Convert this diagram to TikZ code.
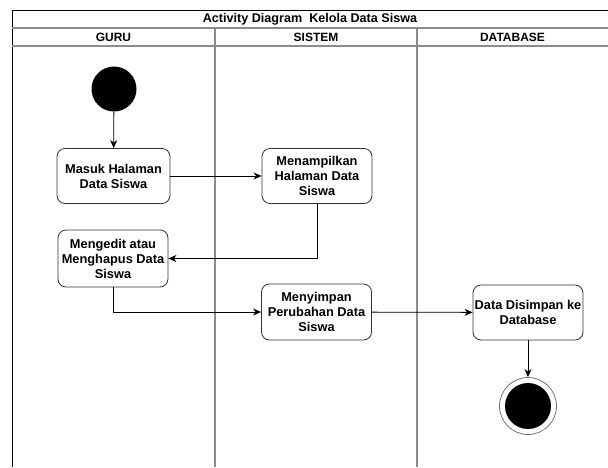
\documentclass[tikz,border=0pt]{standalone}
\usepackage{fontspec}
\setmainfont{Liberation Sans}
\usetikzlibrary{arrows.meta}
\begin{document}
\begin{tikzpicture}[x=1pt,y=-1pt,
  lanerule/.style={draw=black!45,line width=1.2pt},
  framerule/.style={draw=black,line width=0.9pt},
  actbox/.style={draw=black!80,line width=0.8pt,rounded corners=8pt,fill=white,
    minimum width=110pt,minimum height=55pt,align=center,inner sep=1pt,
    font=\fontsize{12.8}{15}\selectfont\bfseries},
  lanehead/.style={font=\fontsize{12}{14}\selectfont\bfseries,inner sep=0pt},
  flow/.style={draw=black,line width=0.8pt,-{Stealth[length=8pt,width=7pt,inset=2.5pt]}}]
  \useasboundingbox (0,0) rectangle (608,467);

  % swimlane frame
  \draw[framerule] (12,467) -- (12,10) -- (608,10);
  \draw[lanerule] (12,28) -- (608,28);
  \draw[lanerule] (12,46) -- (608,46);
  \draw[lanerule] (215,28) -- (215,467);
  \draw[lanerule] (417,28) -- (417,467);

  \node[font=\fontsize{12.6}{14}\selectfont\bfseries,inner sep=0pt] (title) at (310,19) {Activity Diagram\ \ Kelola Data Siswa};
  \node[lanehead] (hguru) at (113.5,37) {GURU};
  \node[lanehead] (hsistem) at (316,37) {SISTEM};
  \node[lanehead] (hdb) at (512.5,37) {DATABASE};

  % activities
  \node[circle,fill=black,minimum size=45pt,inner sep=0pt] (start) at (114,89) {};
  \node[actbox,minimum width=113pt] (b1) at (113.5,176) {Masuk Halaman\\Data Siswa};
  \node[actbox] (b2) at (317,176) {Menampilkan\\Halaman Data\\Siswa};
  \node[actbox,minimum height=57pt] (b3) at (113,258.5) {Mengedit atau\\Menghapus Data\\Siswa};
  \node[actbox,minimum height=56pt] (b4) at (316.5,312) {Menyimpan\\Perubahan Data\\Siswa};
  \node[actbox] (b5) at (528,312.5) {Data Disimpan ke\\Database};
  \node[circle,draw=black!55,line width=0.8pt,fill=white,minimum size=57pt,inner sep=0pt] (end) at (528,406) {};
  \node[circle,fill=black,minimum size=46pt,inner sep=0pt] (endcore) at (end.center) {};

  % control flow
  \draw[flow] (start) -- (b1);
  \draw[flow] (b1) -- (b2);
  \draw[flow] (b2.south) |- (b3.east);
  \draw[flow] (b3.south) |- (b4.west);
  \draw[flow] (b4) -- (b5);
  \draw[flow] (b5) -- (end);
\end{tikzpicture}
\end{document}
